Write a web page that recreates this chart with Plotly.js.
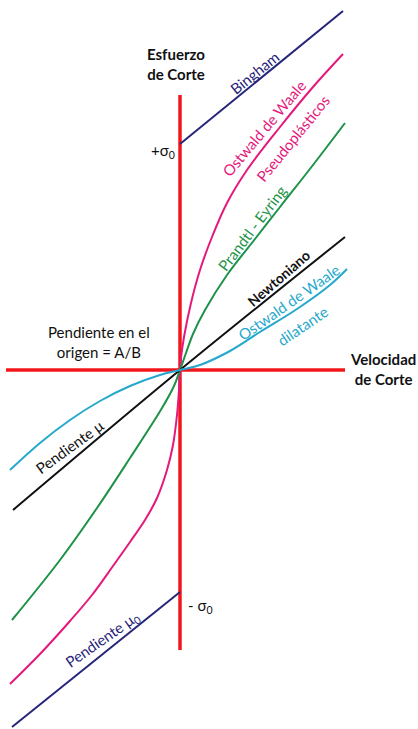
<!DOCTYPE html>
<html>
<head>
<meta charset="utf-8">
<script src="https://cdn.plot.ly/plotly-3.0.1.min.js"></script>
<style>
  body { margin: 0; background: #fff; }
  #chart { width: 418px; height: 729px; }
</style>
</head>
<body>
<div id="chart"></div>
<script>
// shear rate (x) vs shear stress (y), origin in the middle
// values, units are arbitrary

const axisX = [-174, 165];       // velocidad de corte axis extent
const axisY = [-280, 275];       // esfuerzo de corte axis extent

// Bingham: two straight pieces, starting at +sigma0 and -sigma0
const binghamX = [-168, 0, null, 0, 163];
const binghamY = [-357, -222, null, 226, 359];

// Ostwald de Waale pseudoplastic
const pseudoX = [-170, -140, -110, -88, -67, -50, -35, -23, -13, -7, -3, -1, 0, 1, 4, 11, 20, 32, 47, 67, 100, 133, 163];
const pseudoY = [-314, -284, -251, -225, -196, -172, -150, -128, -100, -75, -45, -20, 0, 12, 33, 67, 100, 133, 167, 200, 243, 283, 316];

// Prandtl - Eyring
const eyringX = [-168, -120, -83, -50, -18, -6, 0, 6, 13, 25, 47, 75, 100, 133, 165];
const eyringY = [-250, -190, -138, -88, -38, -16, 0, 17, 36, 60, 95, 131, 163, 205, 247];

// Newtoniano
const newtonX = [-167, 0, 165];
const newtonY = [-140, 0, 133];

// Ostwald de Waale dilatante
const dilatX = [-170, -140, -110, -80, -50, -20, 0, 20, 50, 80, 117, 150, 167];
const dilatY = [-100, -73, -50, -31, -16, -5, 0, 5, 19, 38, 61, 85, 101];

const RED = '#f2161b';
const NAVY = '#27257a';
const PINK = '#e4197c';
const GREEN = '#1d9248';
const BLACK = '#111111';
const CYAN = '#26a8cc';

const FONT = 'Lato, "Open Sans", sans-serif';

function curve(x, y, color, width) {
    return {
        x: x, y: y,
        type: 'scatter',
        mode: 'lines',
        line: {color: color, width: width, shape: 'spline', smoothing: 1},
        connectgaps: false,
        hoverinfo: 'skip'
    };
}

const traces = [
    curve(axisX, [0, 0], RED, 3.5),
    curve([0, 0], axisY, RED, 3.5),
    curve(binghamX, binghamY, NAVY, 2),
    curve(pseudoX, pseudoY, PINK, 2),
    curve(eyringX, eyringY, GREEN, 2),
    curve(newtonX, newtonY, BLACK, 2),
    curve(dilatX, dilatY, CYAN, 2)
];

function label(text, x, y, color, angle, bold, size) {
    return {
        text: bold ? '<b>' + text + '</b>' : text,
        x: x, y: y, xref: 'x', yref: 'y',
        showarrow: false,
        textangle: angle || 0,
        font: {family: FONT, size: size || 15, color: color},
        align: 'center'
    };
}

const annotations = [
    label('Esfuerzo<br>de Corte', -4, 306, BLACK, 0, true, 15),
    label('Velocidad<br>de Corte', 203, 1, BLACK, 0, true, 15),
    label('+σ<sub>0</sub>', -17, 219, BLACK, 0, false, 15),
    label('- σ<sub>0</sub>', 20, -236, BLACK, 0, false, 15),
    label('Pendiente en el<br>origen = A/B', -81, 28, BLACK, 0, false, 15),
    label('Bingham', 74, 297, NAVY, -39, false, 15),
    label('Ostwald de Waale', 84, 242, PINK, -50, false, 15),
    label('Pseudoplásticos', 113, 232, PINK, -51, false, 15),
    label('Prandtl - Eyring', 72, 142, GREEN, -53, false, 15),
    label('Newtoniano', 98, 92, BLACK, -41, true, 14),
    label('Ostwald de Waale', 109, 68, CYAN, -35, false, 15),
    label('dilatante', 122, 44, CYAN, -34, false, 15),
    label('Pendiente μ', -111, -77, BLACK, -36, false, 15),
    label('Pendiente μ<sub>0</sub>', -78, -270, NAVY, -35, false, 15)
];

const layout = {
    width: 418,
    height: 729,
    margin: {l: 0, r: 0, t: 0, b: 0},
    paper_bgcolor: '#ffffff',
    plot_bgcolor: '#ffffff',
    showlegend: false,
    xaxis: {range: [-180, 238], visible: false, fixedrange: true},
    yaxis: {range: [-359, 370], visible: false, fixedrange: true},
    annotations: annotations
};

Plotly.newPlot('chart', traces, layout, {displayModeBar: false, staticPlot: true});
</script>
</body>
</html>
